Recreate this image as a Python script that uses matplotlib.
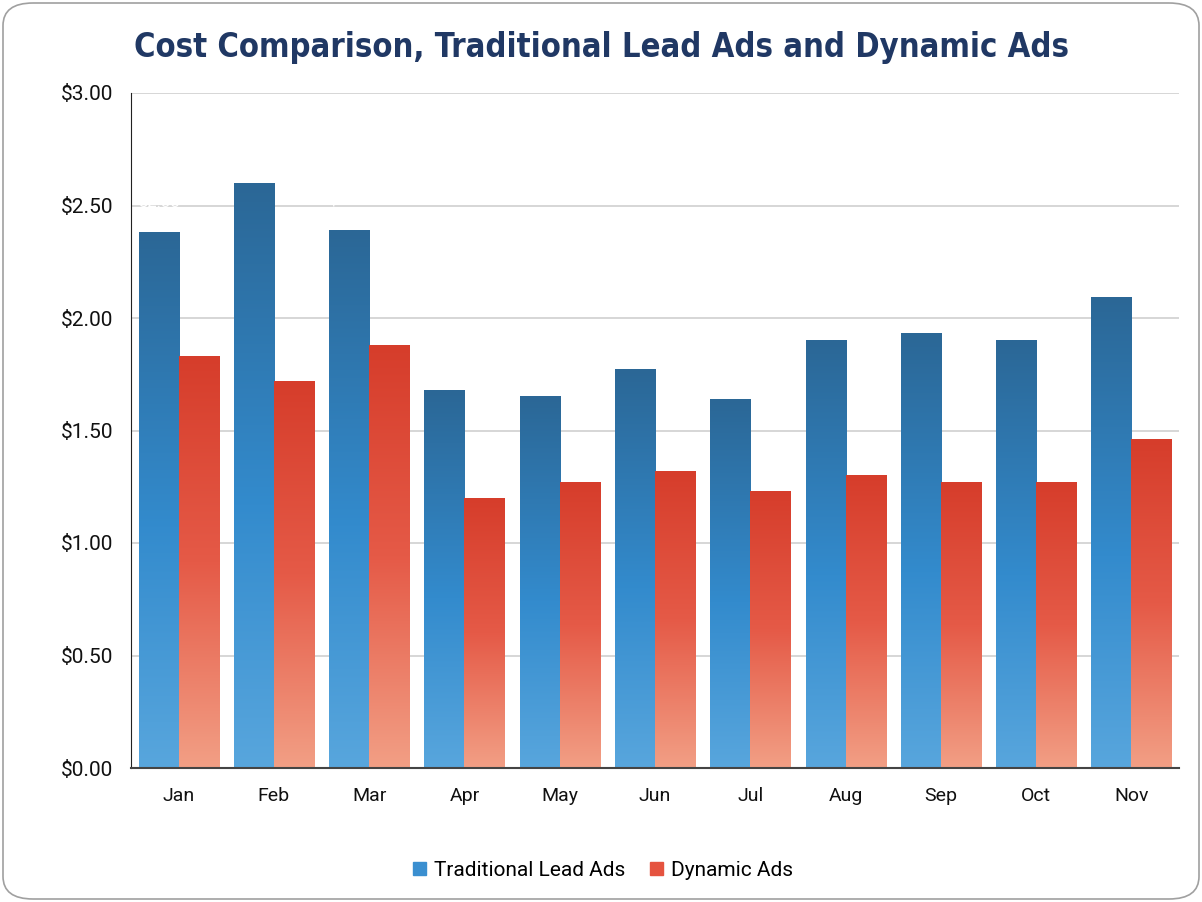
import numpy as np
import matplotlib
matplotlib.use("Agg")
from matplotlib import pyplot as plt
from matplotlib.colors import LinearSegmentedColormap
from matplotlib.patches import FancyBboxPatch, Rectangle
from matplotlib.ticker import FuncFormatter

months = ['Jan', 'Feb', 'Mar', 'Apr', 'May', 'Jun', 'Jul', 'Aug', 'Sep', 'Oct', 'Nov']
traditional = [2.38, 2.60, 2.39, 1.68, 1.65, 1.77, 1.64, 1.90, 1.93, 1.90, 2.09]
dynamic = [1.83, 1.72, 1.88, 1.20, 1.27, 1.32, 1.23, 1.30, 1.27, 1.27, 1.46]
series_names = ['Traditional Lead Ads', 'Dynamic Ads']

blue_cmap = LinearSegmentedColormap.from_list(
    'blue', [(0.0, '#58a6dd'), (0.45, '#338bcd'), (1.0, '#2b6796')])
red_cmap = LinearSegmentedColormap.from_list(
    'red', [(0.0, '#f29f85'), (0.5, '#e55a47'), (1.0, '#d63d2b')])

plt.rcParams['font.family'] = ['Roboto', 'DejaVu Sans']

fig = plt.figure(figsize=(12.02, 9.02), dpi=100)
ax = fig.add_axes([131 / 1202, 1 - 768 / 902, (1179 - 131) / 1202, (768 - 93) / 902])

# rounded frame around the figure
frame = FancyBboxPatch((3 / 1202, 3 / 902), 1196 / 1202, 896 / 902,
                       boxstyle="round,pad=0,rounding_size=0.025",
                       transform=fig.transFigure, fill=False,
                       edgecolor='#a0a0a0', linewidth=1.2, zorder=-1)
fig.patches.append(frame)

x = np.arange(len(months))
w = 0.42
grad = np.linspace(0, 1, 256).reshape(-1, 1)


def gradient_bars(xs, vals, cmap):
    for xi, v in zip(xs, vals):
        ax.imshow(grad, cmap=cmap, origin='lower', aspect='auto',
                  extent=(xi, xi + w, 0, v), zorder=2, interpolation='bilinear')


gradient_bars(x - w, traditional, blue_cmap)
gradient_bars(x, dynamic, red_cmap)

# white value labels above blue bars (mostly hidden against the background)
for xi, v in zip(x - w / 2, traditional):
    ax.text(xi, v + 0.1, '$%.2f' % v, ha='center', va='bottom',
            color='white', fontsize=12, zorder=3)

ax.set_xlim(-0.5, len(months) - 0.5)
ax.set_ylim(0, 3)
ax.set_yticks(np.arange(0, 3.01, 0.5))
ax.yaxis.set_major_formatter(FuncFormatter(lambda v, p: '$%.2f' % v))
ax.set_xticks(x)
ax.set_xticklabels(months)
ax.tick_params(axis='both', length=0, colors='#111111')
ax.tick_params(axis='x', pad=14, labelsize=14)
ax.tick_params(axis='y', pad=13, labelsize=15)
ax.grid(axis='y', color='#d0d0d0', linewidth=1.2, zorder=0)
ax.set_axisbelow(True)
for s in ['top', 'right']:
    ax.spines[s].set_visible(False)
ax.spines['left'].set_color('#222222')
ax.spines['bottom'].set_color('#444444')
ax.spines['bottom'].set_linewidth(1.5)

title = fig.text(601 / 1202, 1 - 48 / 902,
                 'Cost Comparison, Traditional Lead Ads and Dynamic Ads',
                 ha='center', va='center', fontsize=30, fontweight='bold',
                 color='#203864', fontstretch='condensed',
                 family=['DejaVu Sans', 'Roboto'])
# fit the title to the width it has in the reference
renderer = fig.canvas.get_renderer()
tw = title.get_window_extent(renderer).width
title.set_fontsize(min(34, 30 * 933 / tw))

handles = [Rectangle((0, 0), 1, 1, color='#3a8fd0'),
           Rectangle((0, 0), 1, 1, color='#e5533f')]
fig.legend(handles, series_names, loc='center', bbox_to_anchor=(603 / 1202, 1 - 870 / 902),
           ncol=2, frameon=False, fontsize=15, handlelength=0.6, handleheight=0.6,
           handletextpad=0.4, columnspacing=1.2)

fig.savefig('out.png', dpi=100)
